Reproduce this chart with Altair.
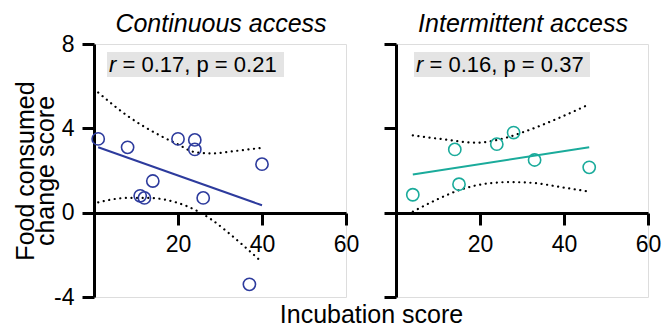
import altair as alt
import pandas as pd

# ---- data ----
panel_titles = ["Continuous access", "Intermittent access"]
stat_r = ["r", "r"]
stat_rest = ["= 0.17, p = 0.21", "= 0.16, p = 0.37"]

cont_x = [1, 8, 20, 24, 24, 40, 14, 11, 12, 26, 37]
cont_y = [3.5, 3.1, 3.5, 3.45, 3.0, 2.3, 1.5, 0.8, 0.7, 0.7, -3.4]
cont_fit_x = [1, 40]
cont_fit_y = [3.1, 0.35]
cont_up_x = [1, 8, 16, 20, 24, 28, 33.4, 40]
cont_up_y = [5.7, 4.59, 3.63, 3.24, 2.87, 2.81, 2.92, 3.08]
cont_lo_x = [1, 8, 12.7, 20, 24, 28, 31.8, 35.8, 40]
cont_lo_y = [0.49, 0.7, 0.7, 0.46, 0.14, -0.33, -0.92, -1.6, -2.35]

int_x = [4, 14, 15, 24, 28, 33, 46]
int_y = [0.85, 3.0, 1.35, 3.25, 3.8, 2.5, 2.15]
int_fit_x = [4, 46]
int_fit_y = [1.81, 3.1]
int_up_x = [4, 11.3, 19.2, 24.8, 31, 39, 46]
int_up_y = [3.67, 3.48, 3.32, 3.48, 3.87, 4.51, 5.14]
int_lo_x = [4, 9.7, 15.2, 21.6, 27, 32.7, 39, 46]
int_lo_y = [0.05, 0.62, 1.08, 1.38, 1.45, 1.41, 1.22, 1.0]

y_title = ["Food consumed", "change score"]
x_title = "Incubation score"

FONT = "Liberation Sans"
W, H = 252, 253
BLUE = "#2d3b9d"
TEAL = "#1aab9b"

xscale = alt.Scale(domain=[0, 60], nice=False, zero=False)
yscale = alt.Scale(domain=[-4, 8], nice=False, zero=False)


def panel(i, px, py, fx, fy, ux, uy, lx, ly, color, left, box):
    xaxis = alt.Axis(
        values=[20, 40, 60], offset=-84, grid=False, domainWidth=3, tickWidth=3,
        domainColor="black", tickColor="black", tickSize=12, labelPadding=8,
        labelFontSize=23, labelFont=FONT, labelColor="black", labelFlush=False,
        labelOverlap=False,
        title=x_title if left else None, titleFont=FONT, titleFontSize=25,
        titleFontWeight="normal", titleColor="black", titleX=277, titleY=109,
        titleAlign="center", titleBaseline="alphabetic",
    )
    yaxis = alt.Axis(
        values=[-4, 0, 4, 8], grid=False, domainWidth=3, tickWidth=3,
        domainColor="black", tickColor="black", tickSize=12, labelPadding=8,
        labelFontSize=23, labelFont=FONT, labelColor="black", labels=left,
        labelFlush=False, labelOverlap=False,
        labelExpr="datum.value < 0 ? '-' + abs(datum.value) : datum.label",
        title=y_title if left else None, titleFont=FONT, titleFontSize=25,
        titleFontWeight="normal", titleColor="black", titleX=-61, titleY=H / 2,
        titleAngle=270, titleAlign="center", titleBaseline="alphabetic",
        titleLineHeight=20,
    )
    pts = pd.DataFrame({"x": px, "y": py})
    fit = pd.DataFrame({"x": fx, "y": fy})
    up = pd.DataFrame({"x": ux, "y": uy})
    lo = pd.DataFrame({"x": lx, "y": ly})
    lab = pd.DataFrame({"r": [stat_r[i]], "rest": [stat_rest[i]], "t": [panel_titles[i]]})

    bx0, bx1 = box
    title = alt.Chart(lab).mark_text(
        font=FONT, fontSize=25, fontStyle="italic", align="center", baseline="alphabetic", color="black"
    ).encode(text="t:N", x=alt.value(W / 2 + 1), y=alt.value(-12))
    bg = alt.Chart(lab).mark_rect(color="#e4e4e4").encode(
        x=alt.value(bx0), x2=alt.value(bx1), y=alt.value(8), y2=alt.value(33)
    )
    rtxt = alt.Chart(lab).mark_text(
        font=FONT, fontSize=22, fontStyle="italic", align="left", baseline="alphabetic", color="black"
    ).encode(text="r:N", x=alt.value(bx0 + 2), y=alt.value(28))
    rest = alt.Chart(lab).mark_text(
        font=FONT, fontSize=22, align="left", baseline="alphabetic", color="black"
    ).encode(text="rest:N", x=alt.value(bx0 + 15.5), y=alt.value(28))

    base_x = alt.X("x:Q", scale=xscale, axis=xaxis)
    base_y = alt.Y("y:Q", scale=yscale, axis=yaxis)

    upper = alt.Chart(up).mark_line(
        color="black", strokeWidth=2.2, strokeDash=[0.1, 5.5], strokeCap="round", interpolate="monotone"
    ).encode(x=base_x, y=base_y)
    lower = alt.Chart(lo).mark_line(
        color="black", strokeWidth=2.2, strokeDash=[0.1, 5.5], strokeCap="round", interpolate="monotone"
    ).encode(x=base_x, y=base_y)
    line = alt.Chart(fit).mark_line(color=color, strokeWidth=2).encode(x=base_x, y=base_y)
    dots = alt.Chart(pts).mark_point(
        shape="circle", size=150, filled=False, color=color, strokeWidth=1.6, opacity=1
    ).encode(x=base_x, y=base_y)

    return alt.layer(title, bg, rtxt, rest, upper, lower, line, dots).properties(
        width=W, height=H,
    )


left = panel(0, cont_x, cont_y, cont_fit_x, cont_fit_y, cont_up_x, cont_up_y,
             cont_lo_x, cont_lo_y, BLUE, True, (13, 190))
right = panel(1, int_x, int_y, int_fit_x, int_fit_y, int_up_x, int_up_y,
              int_lo_x, int_lo_y, TEAL, False, (18, 194))

chart = alt.hconcat(left, right, spacing=50, bounds="flush").properties(
    padding={"left": 12, "top": 11, "right": 0, "bottom": 0}
).configure_view(stroke=None).configure(background="white")

chart.save("out.html", embed_options={"renderer": "svg", "actions": False})
